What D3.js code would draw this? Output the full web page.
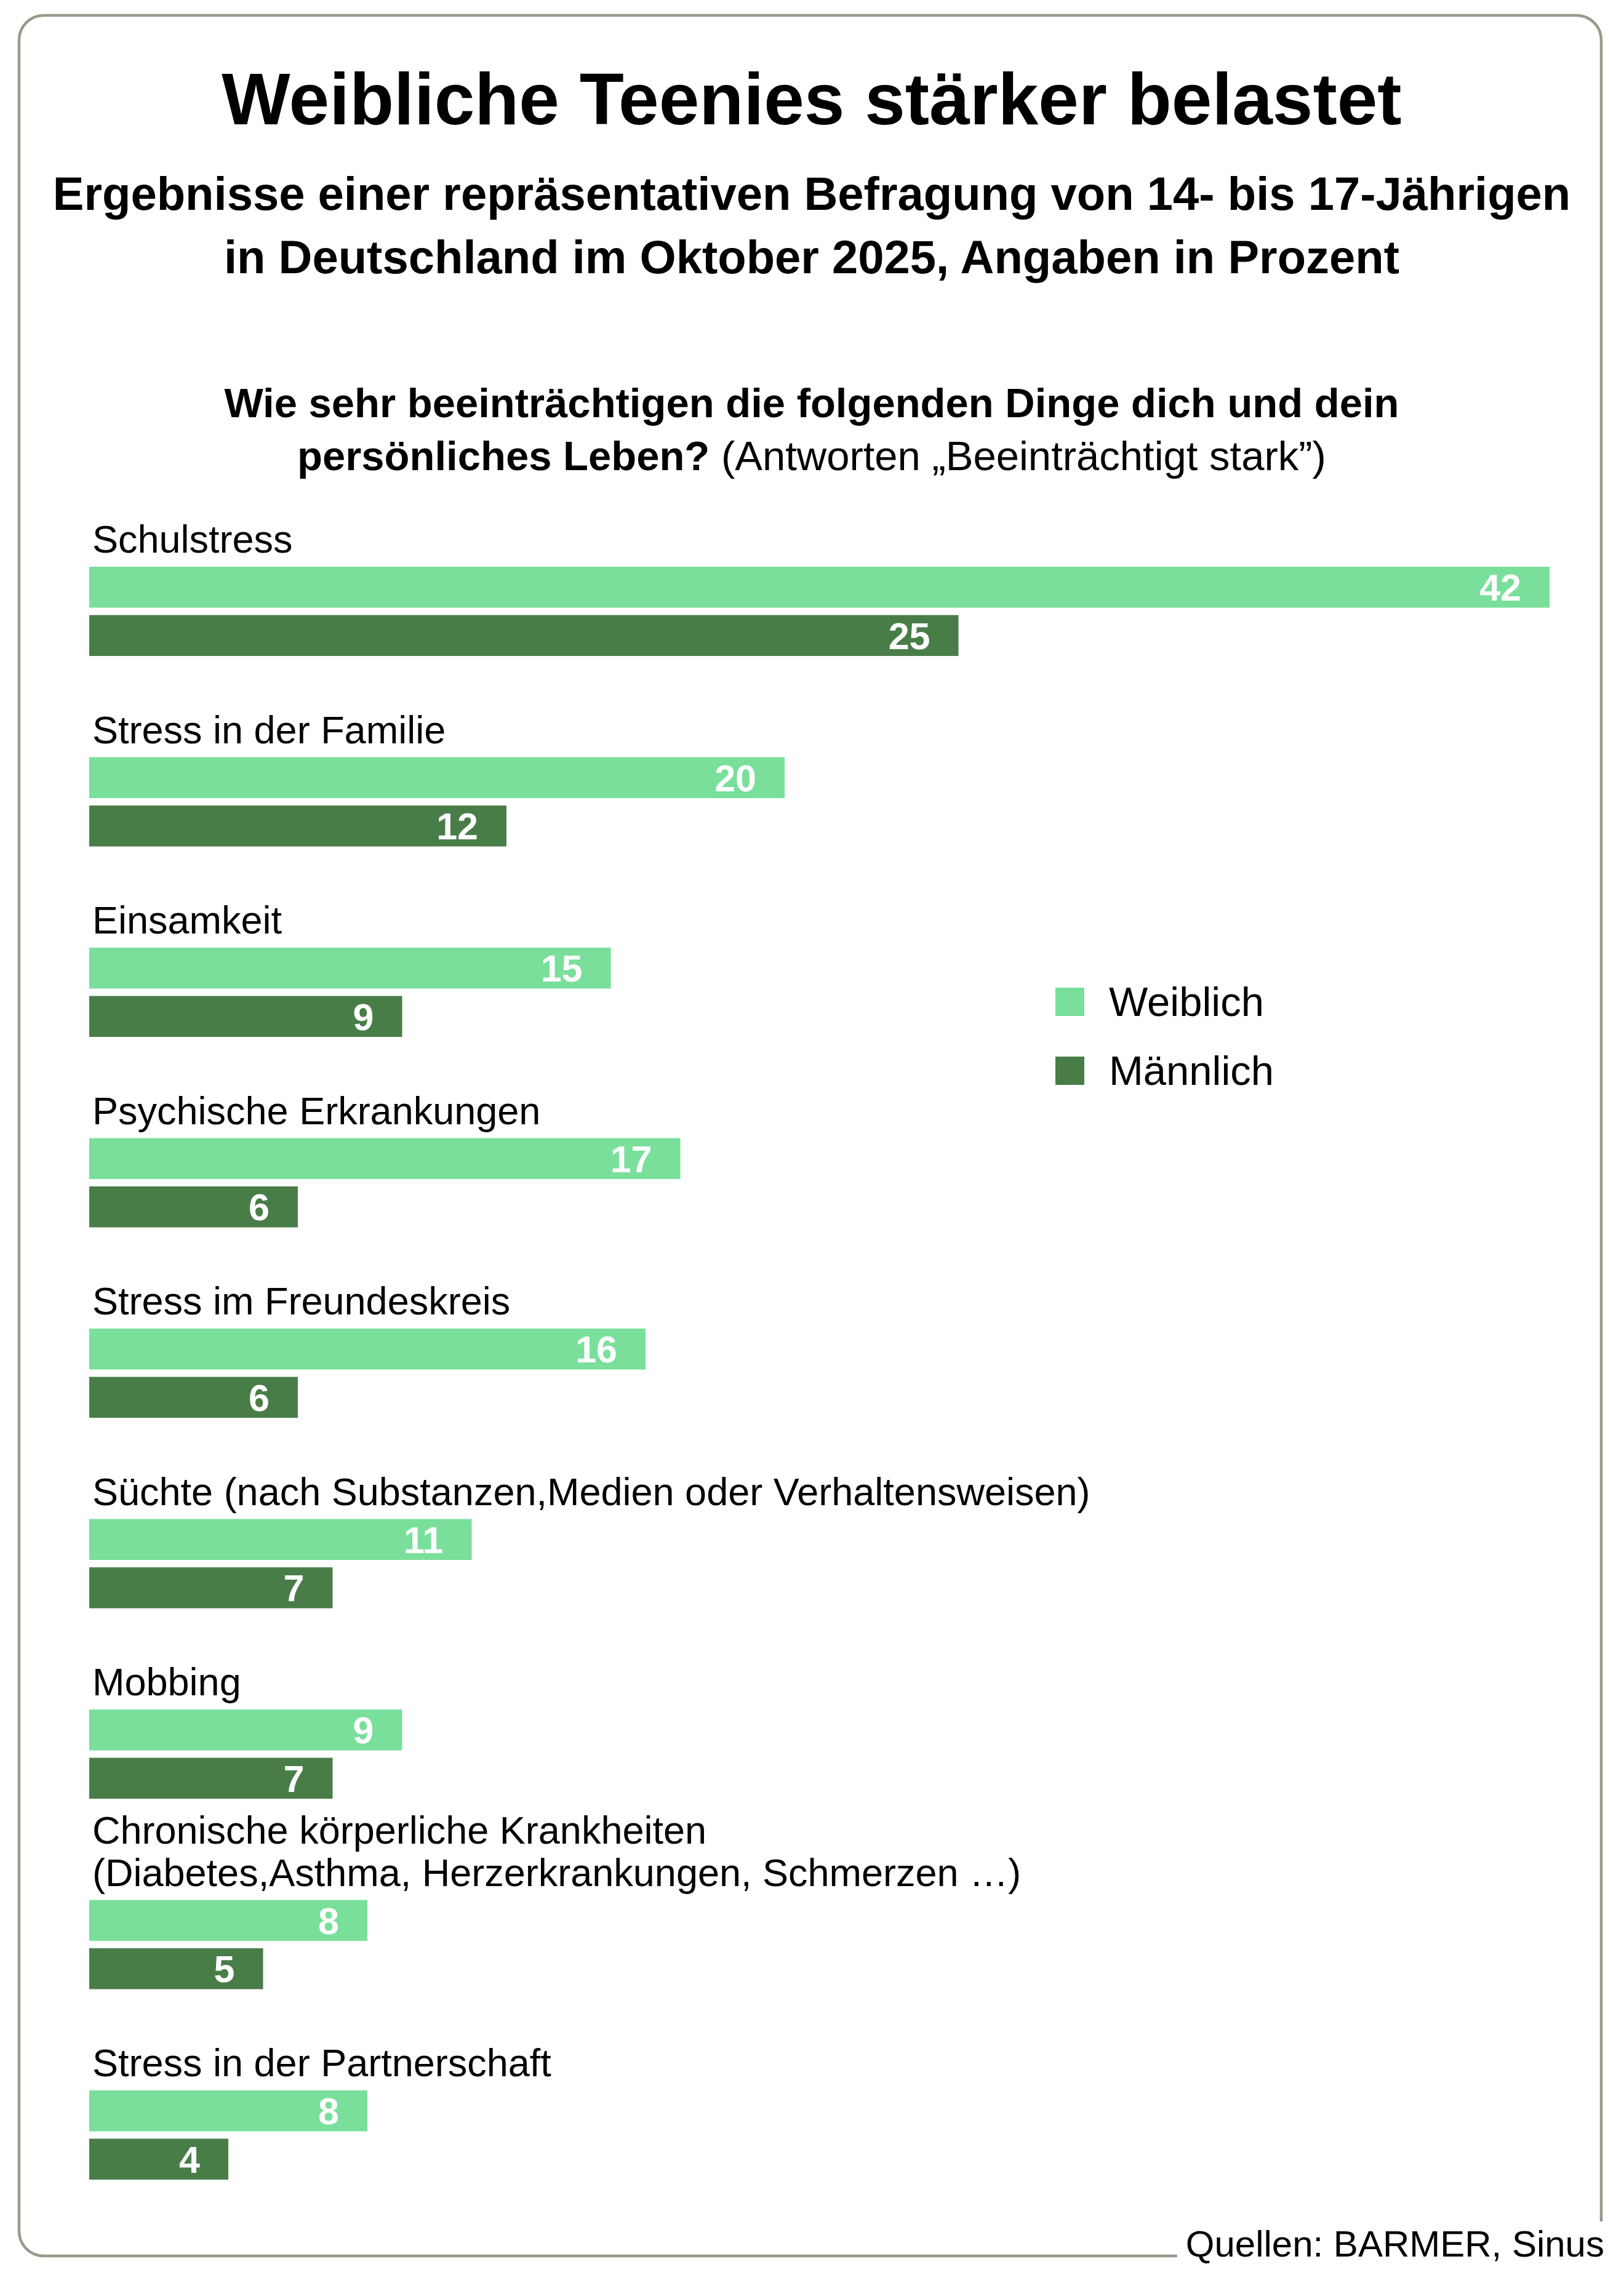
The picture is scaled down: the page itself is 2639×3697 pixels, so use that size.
<!DOCTYPE html>
<html>
<head>
<meta charset="utf-8">
<script src="https://cdn.jsdelivr.net/npm/d3@7"></script>
<style>
  body { margin: 0; background: #fff; }
  text { font-family: "Liberation Sans", Arial, sans-serif; }
</style>
</head>
<body>
<svg id="chart" width="2639" height="3697"></svg>
<script>
var categories = [
    "Schulstress",
    "Stress in der Familie",
    "Einsamkeit",
    "Psychische Erkrankungen",
    "Stress im Freundeskreis",
    "Süchte (nach Substanzen,Medien oder Verhaltensweisen)",
    "Mobbing",
    "Chronische körperliche Krankheiten\n(Diabetes,Asthma, Herzerkrankungen, Schmerzen …)",
    "Stress in der Partnerschaft"
];
var weiblich = [42, 20, 15, 17, 16, 11, 9, 8, 8];
var maennlich = [25, 12, 9, 6, 6, 7, 7, 5, 4];
var seriesNames = ["Weiblich", "Männlich"];
var seriesColors = ["#79df9a", "#497d48"];

var titleText = "Weibliche Teenies stärker belastet";
var subtitleLines = [
    "Ergebnisse einer repräsentativen Befragung von 14- bis 17-Jährigen",
    "in Deutschland im Oktober 2025, Angaben in Prozent"
];
var questionBold = ["Wie sehr beeinträchtigen die folgenden Dinge dich und dein", "persönliches Leben? "];
var questionPlain = "(Antworten „Beeinträchtigt stark”)";
var sourceText = "Quellen: BARMER, Sinus";

var svg = d3.select("#chart");
var cx = 1319;

// frame, open at the bottom right where the source sits
svg.append("path")
    .attr("d", "M1913,3666 H71 A40,40 0 0 1 31,3626 V65 A40,40 0 0 1 71,25 H2562 A40,40 0 0 1 2602,65 V3610")
    .style("fill", "none")
    .style("stroke", "#9b998b")
    .style("stroke-width", 4.5);

// headings
svg.append("text")
    .attr("x", cx).attr("y", 202)
    .attr("text-anchor", "middle")
    .style("font-size", "118px").style("font-weight", "bold")
    .text(titleText);

svg.selectAll(".sub").data(subtitleLines).enter().append("text")
    .attr("class", "sub")
    .attr("x", cx).attr("y", function (d, i) { return 341 + i * 103; })
    .attr("text-anchor", "middle")
    .style("font-size", "76px").style("font-weight", "bold")
    .text(function (d) { return d; });

svg.append("text")
    .attr("x", cx).attr("y", 678)
    .attr("text-anchor", "middle")
    .style("font-size", "67px").style("font-weight", "bold")
    .text(questionBold[0]);

var q2 = svg.append("text")
    .attr("x", cx).attr("y", 764)
    .attr("text-anchor", "middle")
    .style("font-size", "67px");
q2.append("tspan").style("font-weight", "bold").text(questionBold[1]);
q2.append("tspan").text(questionPlain);

// scales
var x = d3.scaleLinear().domain([0, 42]).range([145, 2518]);
var y = d3.scaleBand().domain(categories).range([921, 921 + categories.length * 309.5]).padding(0);
var barH = 66.5;
var barGap = 12;

var rows = categories.map(function (c, i) {
    return { cat: c, values: [weiblich[i], maennlich[i]] };
});

var group = svg.selectAll(".grp").data(rows).enter().append("g")
    .attr("class", "grp")
    .attr("transform", function (d) { return "translate(0," + y(d.cat) + ")"; });

// category labels (last line sits just above the bars)
group.each(function (d) {
    var lines = d.cat.split("\n");
    var g = d3.select(this);
    lines.forEach(function (line, j) {
        g.append("text")
            .attr("x", 150)
            .attr("y", -23 - (lines.length - 1 - j) * 69)
            .style("font-size", "63px")
            .text(line);
    });
});

// bars
group.selectAll("rect").data(function (d) { return d.values; }).enter().append("rect")
    .attr("x", x(0))
    .attr("y", function (d, k) { return k * (barH + barGap); })
    .attr("width", function (d) { return x(d) - x(0); })
    .attr("height", barH)
    .style("fill", function (d, k) { return seriesColors[k]; });

// value labels
group.selectAll(".val").data(function (d) { return d.values; }).enter().append("text")
    .attr("class", "val")
    .attr("x", function (d) { return x(d) - 46; })
    .attr("y", function (d, k) { return k * (barH + barGap) + barH / 2 + 22; })
    .attr("text-anchor", "end")
    .style("font-size", "61px").style("font-weight", "bold")
    .style("fill", "#fff")
    .text(function (d) { return d; });

// legend
var legend = svg.selectAll(".leg").data(seriesNames).enter().append("g")
    .attr("class", "leg")
    .attr("transform", function (d, i) { return "translate(1715," + (1605 + i * 112) + ")"; });
legend.append("rect")
    .attr("width", 47).attr("height", 46)
    .style("fill", function (d, i) { return seriesColors[i]; });
legend.append("text")
    .attr("x", 87).attr("y", 46)
    .style("font-size", "67px")
    .text(function (d) { return d; });

// source
svg.append("text")
    .attr("x", 2607).attr("y", 3667)
    .attr("text-anchor", "end")
    .style("font-size", "60px")
    .text(sourceText);
</script>
</body>
</html>
